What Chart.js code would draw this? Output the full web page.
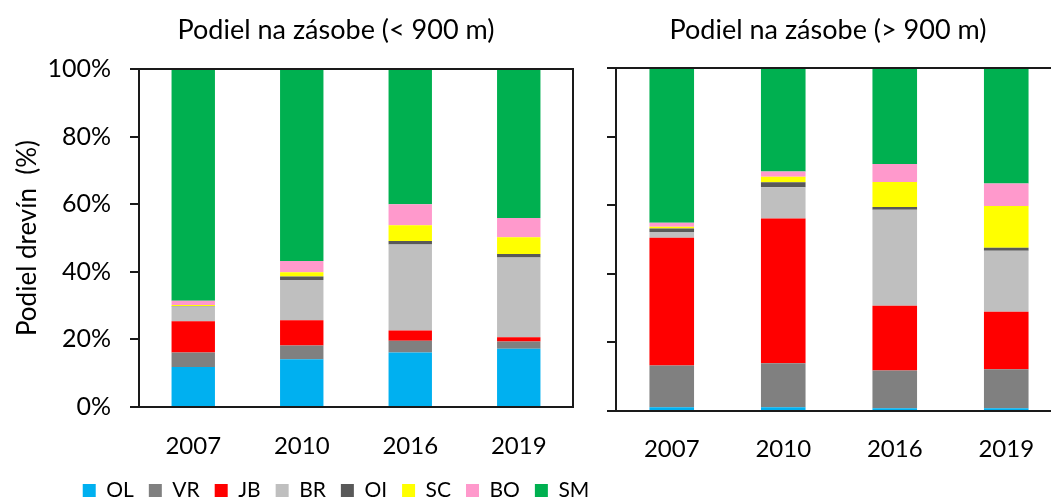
<!DOCTYPE html>
<html><head><meta charset="utf-8">
<script src="https://cdn.jsdelivr.net/npm/chart.js@4.4.1/dist/chart.umd.min.js"></script>
<style>
html,body{margin:0;padding:0;width:1051px;height:500px;overflow:hidden;background:#fff;}
#wl{position:absolute;left:0;top:0;}
#wr{position:absolute;left:594px;top:0;}
</style></head><body>
<div id="wl"><canvas id="cl" width="672" height="511"></canvas></div>
<div id="wr"><canvas id="cr" width="468" height="511"></canvas></div>
<script>
const years = ['2007', '2010', '2016', '2019'];
const species = ['OL', 'VR', 'JB', 'BR', 'OI', 'SC', 'BO', 'SM'];
const colors = ['#00B0F0', '#808080', '#FF0000', '#BFBFBF', '#595959', '#FFFF00', '#FF99CC', '#00B050'];
const titleLow = 'Podiel na zásobe (< 900 m)';
const titleHigh = 'Podiel na zásobe (> 900 m)';
const yTitle = 'Podiel drevín  (%)';
const yTicks = [0, 20, 40, 60, 80, 100];

// share of stock (%) below 900 m, per year
const lowOL = [11.8, 14.1, 16.1, 17.2];
const lowVR = [4.3, 4.1, 3.5, 2.2];
const lowJB = [9.3, 7.5, 3.0, 1.2];
const lowBR = [4.3, 11.9, 25.5, 23.6];
const lowOI = [0.2, 1.0, 1.0, 1.1];
const lowSC = [0.3, 1.3, 4.7, 4.9];
const lowBO = [1.2, 3.3, 6.2, 5.7];
const lowSM = [68.6, 56.8, 40.0, 44.1];

// share of stock (%) above 900 m, per year
const highOL = [1.1, 1.1, 0.8, 0.8];
const highVR = [12.2, 12.8, 11.0, 11.4];
const highJB = [37.2, 42.2, 18.9, 16.7];
const highBR = [1.7, 9.1, 28.0, 17.8];
const highOI = [1.0, 1.5, 0.8, 0.9];
const highSC = [0.5, 1.6, 7.3, 12.2];
const highBO = [1.2, 1.5, 5.2, 6.5];
const highSM = [45.1, 30.2, 28.0, 33.7];

const lowSeries = [lowOL, lowVR, lowJB, lowBR, lowOI, lowSC, lowBO, lowSM];
const highSeries = [highOL, highVR, highJB, highBR, highOI, highSC, highBO, highSM];

const FONT = 'Lato, Calibri, Carlito, sans-serif';
const LINE = '#1a1a1a';

function makeDatasets(series) {
  return series.map((vals, i) => ({
    label: species[i],
    data: vals,
    backgroundColor: colors[i],
    borderWidth: 0,
    barPercentage: 0.4,
    categoryPercentage: 1.0
  }));
}

const boxPlugin = {
  id: 'boxFrame',
  afterDatasetsDraw(chart) {
    const a = chart.chartArea, ctx = chart.ctx;
    ctx.save();
    ctx.strokeStyle = LINE;
    ctx.lineWidth = 2;
    ctx.strokeRect(a.left, a.top, a.right - a.left, a.bottom - a.top);
    ctx.restore();
  }
};

function makeOptions(cfg) {
  const scales = {
    x: {
      stacked: true,
      grid: { display: false, drawTicks: false },
      border: { display: true, color: LINE, width: 2 },
      ticks: { color: '#000', padding: cfg.xPad, font: { family: FONT, size: 24 } },
      afterFit: s => { s.height = cfg.xHeight; }
    },
    y: {
      stacked: true, min: 0, max: 100,
      afterBuildTicks: s => { s.ticks = yTicks.map(v => ({ value: v })); },
      grid: { drawOnChartArea: false, drawTicks: true, tickLength: 9, color: LINE, lineWidth: 2 },
      border: { display: true, color: LINE, width: 2 },
      ticks: {
        display: cfg.yLabels, color: '#000', padding: 19,
        font: { family: FONT, size: 25 },
        callback: v => v + '%'
      },
      title: cfg.yLabels ? {
        display: true, text: yTitle, color: '#000',
        font: { family: FONT, size: 26 }, padding: { top: 12, bottom: 0 }
      } : { display: false },
      afterFit: s => { s.width = cfg.yWidth; }
    }
  };
  if (cfg.rightSpace) {
    scales.yR = {
      position: 'right', display: true,
      grid: { display: false, drawTicks: false },
      border: { display: false },
      ticks: { display: false },
      afterFit: s => { s.width = cfg.rightSpace; }
    };
  }
  return {
    responsive: false,
    devicePixelRatio: 1,
    animation: false,
    layout: { padding: 0 },
    plugins: {
      title: {
        display: true, text: cfg.title, color: '#000',
        font: { family: FONT, size: 27, weight: 'normal' },
        padding: { top: 14, bottom: cfg.titleBottom }
      },
      legend: cfg.legend ? {
        display: true, position: 'bottom',
        labels: {
          color: '#000', boxWidth: 13, boxHeight: 13, padding: 15,
          font: { family: FONT, size: 21 }
        }
      } : { display: false },
      tooltip: { enabled: false }
    },
    scales
  };
}

new Chart(document.getElementById('cl'), {
  type: 'bar',
  data: { labels: years, datasets: makeDatasets(lowSeries) },
  options: makeOptions({
    title: titleLow, titleBottom: 22.6, legend: true, xHeight: 58, xPad: 25,
    yLabels: true, yWidth: 139, rightSpace: 99
  }),
  plugins: [boxPlugin]
});

new Chart(document.getElementById('cr'), {
  type: 'bar',
  data: { labels: years, datasets: makeDatasets(highSeries) },
  options: makeOptions({
    title: titleHigh, titleBottom: 21.6, legend: false, xHeight: 100, xPad: 24,
    yLabels: false, yWidth: 22, rightSpace: 0
  }),
  plugins: [boxPlugin]
});
</script>
</body></html>
